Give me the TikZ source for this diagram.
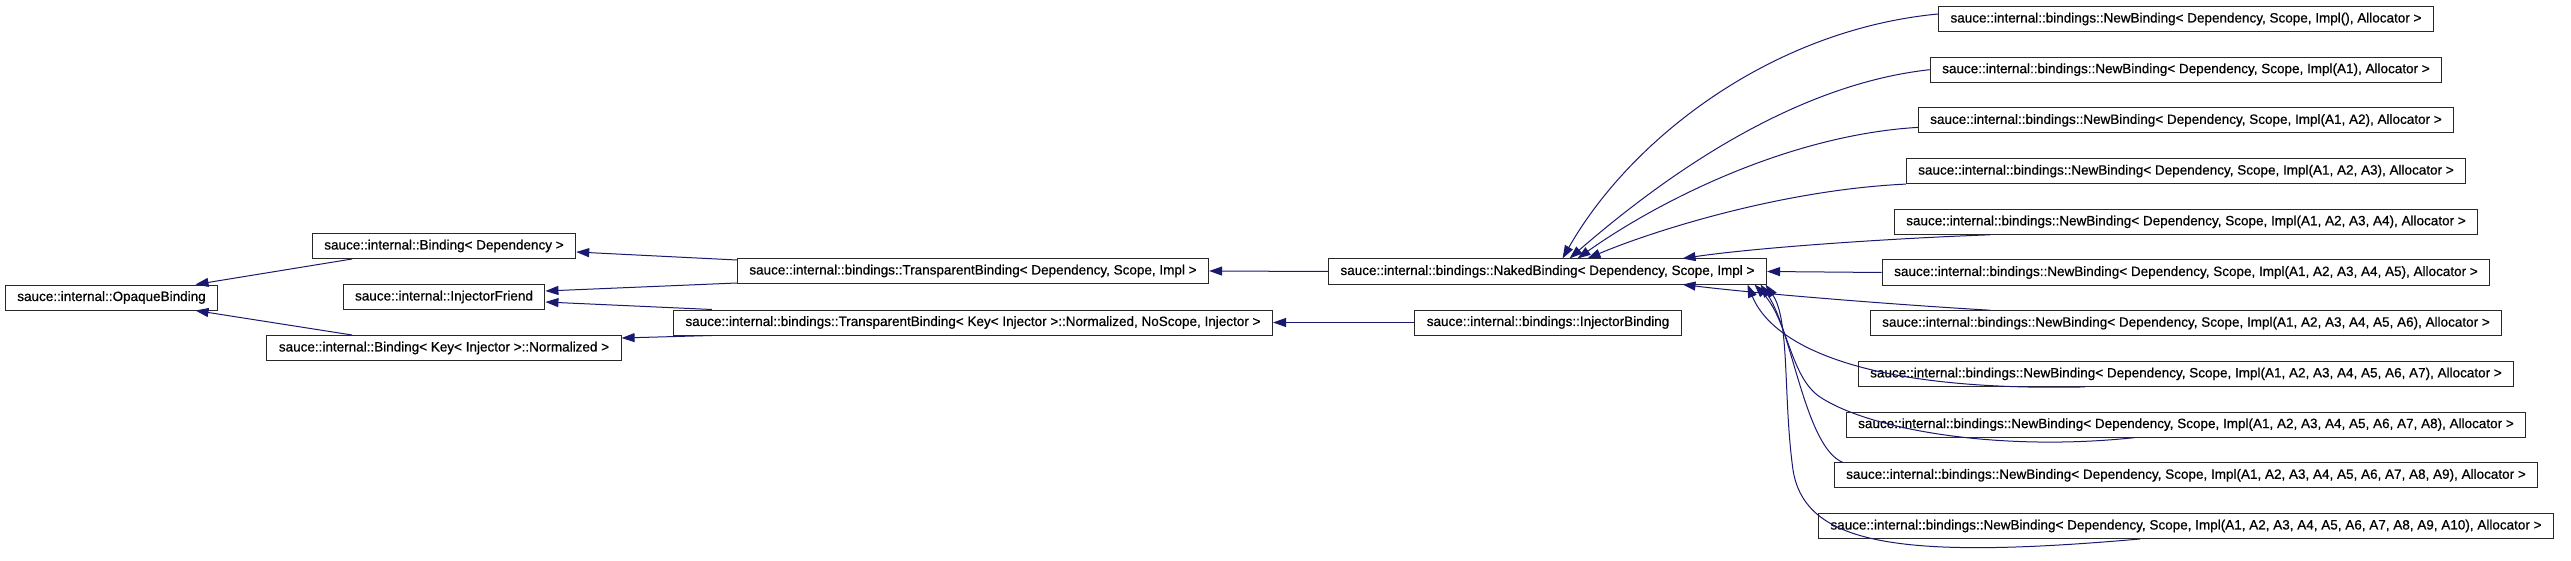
\documentclass[tikz,border=0pt]{standalone}
\usepackage{fontspec}
\setmainfont{Liberation Sans}[FakeBold=0.6]
\usepackage{tikz}
\usetikzlibrary{positioning,arrows.meta}
\definecolor{EdgeBlue}{RGB}{25,25,112}
\definecolor{BoxLine}{RGB}{40,40,40}
\newcommand{\newbind}[1]{sauce::internal::bindings::NewBinding< Dependency, Scope, Impl(#1), Allocator >}
\tikzset{
  classbox/.style={
    draw=BoxLine,
    fill=white,
    line width=1pt,
    minimum height=25pt,
    inner xsep=12pt,
    inner ysep=0pt,
    font=\fontsize{13.5}{16}\selectfont
  },
  inherit/.style={-{Triangle[length=13pt,width=9pt]},line width=1pt,draw=EdgeBlue}
}
\begin{document}
\begin{tikzpicture}[x=1pt,y=1pt,node distance=24.7pt]
    \useasboundingbox (0,0) rectangle (2571,-561);
    % base classes
    \node[classbox] (opaque) at (111.5,-297.5) {sauce::internal::OpaqueBinding};
    \node[classbox] (bindDep) at (444,-246) {sauce::internal::Binding< Dependency >};
    \node[classbox] (injFriend) at (444,-297) {sauce::internal::InjectorFriend};
    \node[classbox] (bindKey) at (444,-348) {sauce::internal::Binding< Key< Injector >::Normalized >};
    \node[classbox] (transDep) at (973,-271) {sauce::internal::bindings::TransparentBinding< Dependency, Scope, Impl >};
    \node[classbox] (transKey) at (973,-322.5) {sauce::internal::bindings::TransparentBinding< Key< Injector >::Normalized, NoScope, Injector >};
    \node[classbox] (naked) at (1547.5,-271.5) {sauce::internal::bindings::NakedBinding< Dependency, Scope, Impl >};
    \node[classbox] (injBind) at (1548,-322.5) {sauce::internal::bindings::InjectorBinding};
    % new bindings
    \node[classbox] (new0) at (2186,-19) {\newbind{}};
    \node[classbox,below=of new0] (new1) {\newbind{A1}};
    \node[classbox,below=of new1] (new2) {\newbind{A1, A2}};
    \node[classbox,below=of new2] (new3) {\newbind{A1, A2, A3}};
    \node[classbox,below=of new3] (new4) {\newbind{A1, A2, A3, A4}};
    \node[classbox,below=of new4] (new5) {\newbind{A1, A2, A3, A4, A5}};
    \node[classbox,below=of new5] (new6) {\newbind{A1, A2, A3, A4, A5, A6}};
    \node[classbox,below=of new6] (new7) {\newbind{A1, A2, A3, A4, A5, A6, A7}};
    \node[classbox,below=of new7] (new8) {\newbind{A1, A2, A3, A4, A5, A6, A7, A8}};
    \node[classbox,below=of new8] (new9) {\newbind{A1, A2, A3, A4, A5, A6, A7, A8, A9}};
    \node[classbox,below=of new9] (new10) {\newbind{A1, A2, A3, A4, A5, A6, A7, A8, A9, A10}};
    % inheritance
    \draw[inherit] ([xshift=-92pt]bindDep.south) -- ([xshift=84pt]opaque.north);
    \draw[inherit] ([xshift=-92pt]bindKey.north) -- ([xshift=84pt]opaque.south);
    \draw[inherit] ([yshift=11pt]transDep.west) -- ([yshift=-6pt]bindDep.east);
    \draw[inherit] ([yshift=1pt]transDep.south west) -- ([yshift=6pt]injFriend.east);
    \draw[inherit] ([xshift=39pt]transKey.north west) -- ([yshift=-5pt]injFriend.east);
    \draw[inherit] ([xshift=39pt]transKey.south west) -- ([yshift=10pt]bindKey.east);
    \draw[inherit] (naked.west) -- (transDep.east);
    \draw[inherit] (injBind.west) -- (transKey.east);
    \draw[inherit] ([yshift=5pt]new0.west) .. controls (1770,-30) and (1630,-140) .. ([xshift=15pt]naked.north);
    \draw[inherit] (new1.west) .. controls (1790,-85) and (1660,-180) .. ([xshift=22pt]naked.north);
    \draw[inherit] ([yshift=-7pt]new2.west) .. controls (1790,-135) and (1660,-200) .. ([xshift=30pt]naked.north);
    \draw[inherit] (new3.south west) .. controls (1780,-190) and (1650,-232) .. ([xshift=40pt]naked.north);
    \draw[inherit] ([xshift=-196pt]new4.south) .. controls (1900,-238) and (1760,-247) .. ([xshift=135pt]naked.north);
    \draw[inherit] (new5.west) -- (naked.east);
    \draw[inherit] ([xshift=-196pt]new6.north) .. controls (1900,-305) and (1760,-294) .. ([xshift=135pt]naked.south);
    \draw[inherit] ([xshift=-101pt]new7.south) .. controls (1850,-392) and (1770,-340) .. ([xshift=200pt]naked.south);
    \draw[inherit] ([xshift=-51pt]new8.south) .. controls (2000,-452) and (1870,-430) .. (1820,-397)
        .. controls (1790,-377) and (1788,-320) .. ([xshift=207pt]naked.south);
    \draw[inherit] ([xshift=9pt]new9.north west) .. controls (1805,-447) and (1792,-330) .. ([xshift=213pt]naked.south);
    \draw[inherit] ([xshift=-46pt]new10.south) .. controls (1900,-560) and (1805,-545) .. (1793,-470)
        .. controls (1783,-398) and (1790,-320) .. ([xshift=218pt]naked.south);
\end{tikzpicture}
\end{document}
